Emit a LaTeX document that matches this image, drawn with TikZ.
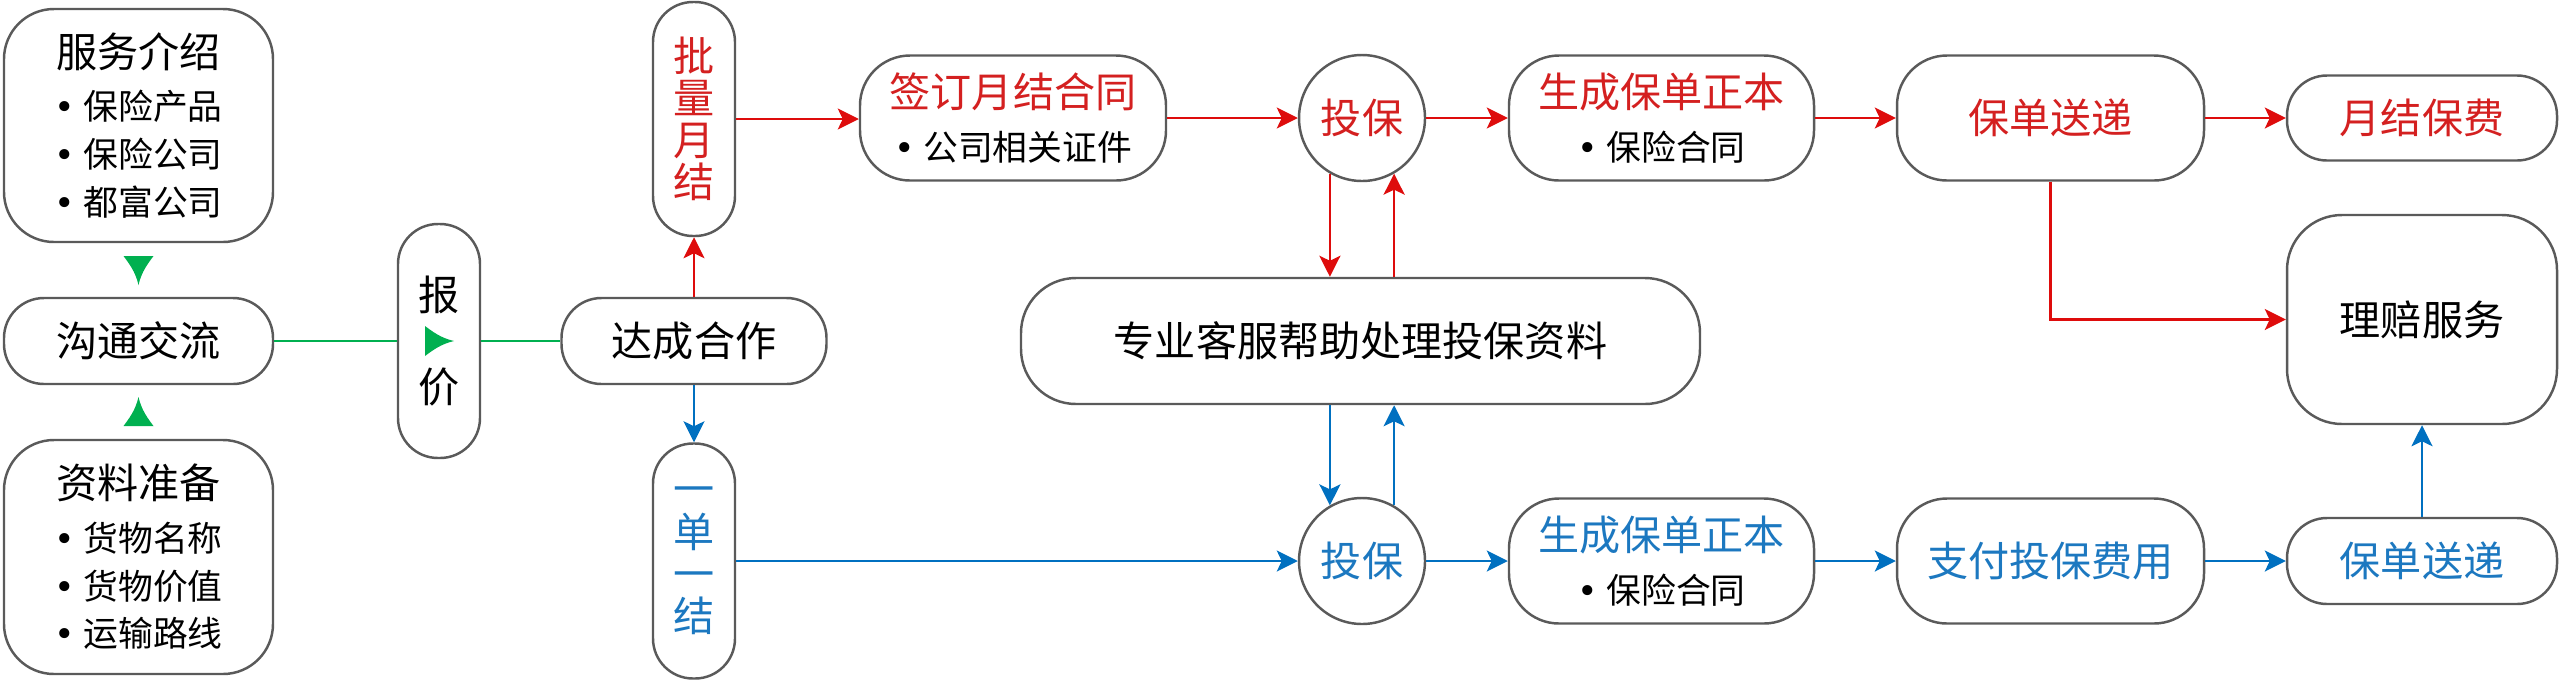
\documentclass[tikz,border=0pt]{standalone}
\usepackage{fontspec}
\setmainfont{Noto Sans CJK SC}
\newfontfamily\dvsans{DejaVu Sans}
\usetikzlibrary{arrows.meta,calc}

\definecolor{edgegray}{RGB}{90,90,90}
\definecolor{lnred}{RGB}{222,12,12}
\definecolor{txred}{RGB}{212,32,32}
\definecolor{lnblue}{RGB}{0,112,192}
\definecolor{txblue}{RGB}{28,120,192}
\definecolor{lngreen}{RGB}{0,176,80}

% bullet line inside a box
\newcommand{\itm}[1]{{\fontsize{9.9pt}{13.5pt}\selectfont{\dvsans •}\hspace{0.25em}#1}}

\begin{document}
\begin{tikzpicture}[
      box/.style={draw=edgegray, line width=0.7pt, fill=white, rounded corners=5mm,
        align=center, inner sep=0pt, font=\fontsize{11.7pt}{13.6pt}\selectfont},
      pill/.style={box, rounded corners=4mm},
      vbox/.style={pill, minimum width=0.82cm, minimum height=2.34cm,
        font=\fontsize{11.7pt}{12pt}\selectfont},
      ring/.style={draw=edgegray, line width=0.7pt, fill=white, circle, minimum size=1.26cm,
        inner sep=0pt, font=\fontsize{11.7pt}{13.6pt}\selectfont},
      redln/.style={draw=lnred, line width=0.75pt, -{Stealth[length=2.1mm, width=2.1mm, inset=0.5mm]}},
      bluln/.style={draw=lnblue, line width=0.75pt, -{Stealth[length=2.1mm, width=2.1mm, inset=0.5mm]}},
      grnln/.style={draw=lngreen, line width=0.75pt},
      gtip/.pic={\fill[lngreen] (0.15,0) .. controls (0.02,0.03) and (-0.06,0.09) .. (-0.14,0.15)
        -- (-0.14,-0.15) .. controls (-0.06,-0.09) and (0.02,-0.03) .. (0.15,0) -- cycle;}
    ]
      \useasboundingbox (0,0) rectangle (25.6,6.8);

      % Left column
      \node[box, minimum width=2.69cm, minimum height=2.33cm] (svc) at (1.385,5.545)
        {服务介绍\\[1.3pt]\itm{保险产品}\\\itm{保险公司}\\\itm{都富公司}};
      \node[pill, minimum width=2.69cm, minimum height=0.86cm] (talk) at (1.385,3.39) {沟通交流};
      \node[box, minimum width=2.69cm, minimum height=2.34cm] (prep) at (1.385,1.23)
        {资料准备\\[1.3pt]\itm{货物名称}\\\itm{货物价值}\\\itm{运输路线}};

      \node[vbox] (quote) at (4.39,3.39) {报\\[14pt]价};
      \node[pill, minimum width=2.65cm, minimum height=0.86cm] (deal) at (6.94,3.39) {达成合作};
      \node[vbox, text=txred] (batch) at (6.94,5.61) {批\\量\\月\\结};
      \node[vbox, text=txblue, minimum height=2.35cm] (single) at (6.94,1.19) {一\\单\\一\\结};

      % Upper row: monthly settlement
      \node[box, minimum width=3.06cm, minimum height=1.25cm] (sign) at (10.13,5.62)
        {\textcolor{txred}{签订月结合同}\\[1.3pt]\itm{公司相关证件}};
      \node[ring, text=txred] (insA) at (13.62,5.62) {投保};
      \node[box, minimum width=3.05cm, minimum height=1.25cm] (polA) at (16.615,5.62)
        {\textcolor{txred}{生成保单正本}\\[1.3pt]\itm{保险合同}};
      \node[box, text=txred, minimum width=3.07cm, minimum height=1.25cm] (delA) at (20.505,5.62) {保单送递};
      \node[pill, text=txred, minimum width=2.70cm, minimum height=0.85cm] (fee) at (24.22,5.62) {月结保费};

      % Middle
      \node[box, rounded corners=5.5mm, minimum width=6.79cm, minimum height=1.26cm] (help) at (13.605,3.39)
        {专业客服帮助处理投保资料};
      \node[box, rounded corners=5.5mm, minimum width=2.70cm, minimum height=2.09cm] (claim) at (24.22,3.605)
        {理赔服务};

      % Lower row: one policy, one settlement
      \node[ring, text=txblue] (insB) at (13.62,1.19) {投保};
      \node[box, minimum width=3.05cm, minimum height=1.25cm] (polB) at (16.615,1.19)
        {\textcolor{txblue}{生成保单正本}\\[1.3pt]\itm{保险合同}};
      \node[box, text=txblue, minimum width=3.07cm, minimum height=1.25cm] (pay) at (20.505,1.19) {支付投保费用};
      \node[pill, text=txblue, minimum width=2.70cm, minimum height=0.86cm] (delB) at (24.22,1.19) {保单送递};

      % Green part
      \draw[grnln] (talk.east) -- (talk.east -| quote.west);
      \draw[grnln] (quote.east) -- (quote.east -| deal.west);
      \pic[rotate=-90] at ($(svc.south)!0.5!(talk.north)$) {gtip};
      \pic[rotate=90] at ($(prep.north)!0.5!(talk.south)$) {gtip};
      \pic at (quote.center) {gtip};

      % Red connectors
      \draw[redln] (deal.north) -- (batch.south);
      \draw[redln] (batch.east) -- (batch.east -| sign.west);
      \draw[redln] (sign.east) -- (insA.west);
      \draw[redln] (insA.east) -- (polA.west);
      \draw[redln] (polA.east) -- (delA.west);
      \draw[redln] (delA.east) -- (fee.west);
      \draw[redln] (insA.240) -- (insA.240 |- help.north);
      \draw[redln] (help.north -| insA.300) -- (insA.300);
      \draw[redln] (delA.south) |- (claim.west);

      % Blue connectors
      \draw[bluln] (deal.south) -- (single.north);
      \draw[bluln] (single.east) -- (single.east -| insB.west);
      \draw[bluln] (insB.east) -- (polB.west);
      \draw[bluln] (polB.east) -- (pay.west);
      \draw[bluln] (pay.east) -- (delB.west);
      \draw[bluln] (help.south -| insB.120) -- (insB.120);
      \draw[bluln] (insB.60) -- (insB.60 |- help.south);
      \draw[bluln] (delB.north) -- (claim.south);
    \end{tikzpicture}
\end{document}
